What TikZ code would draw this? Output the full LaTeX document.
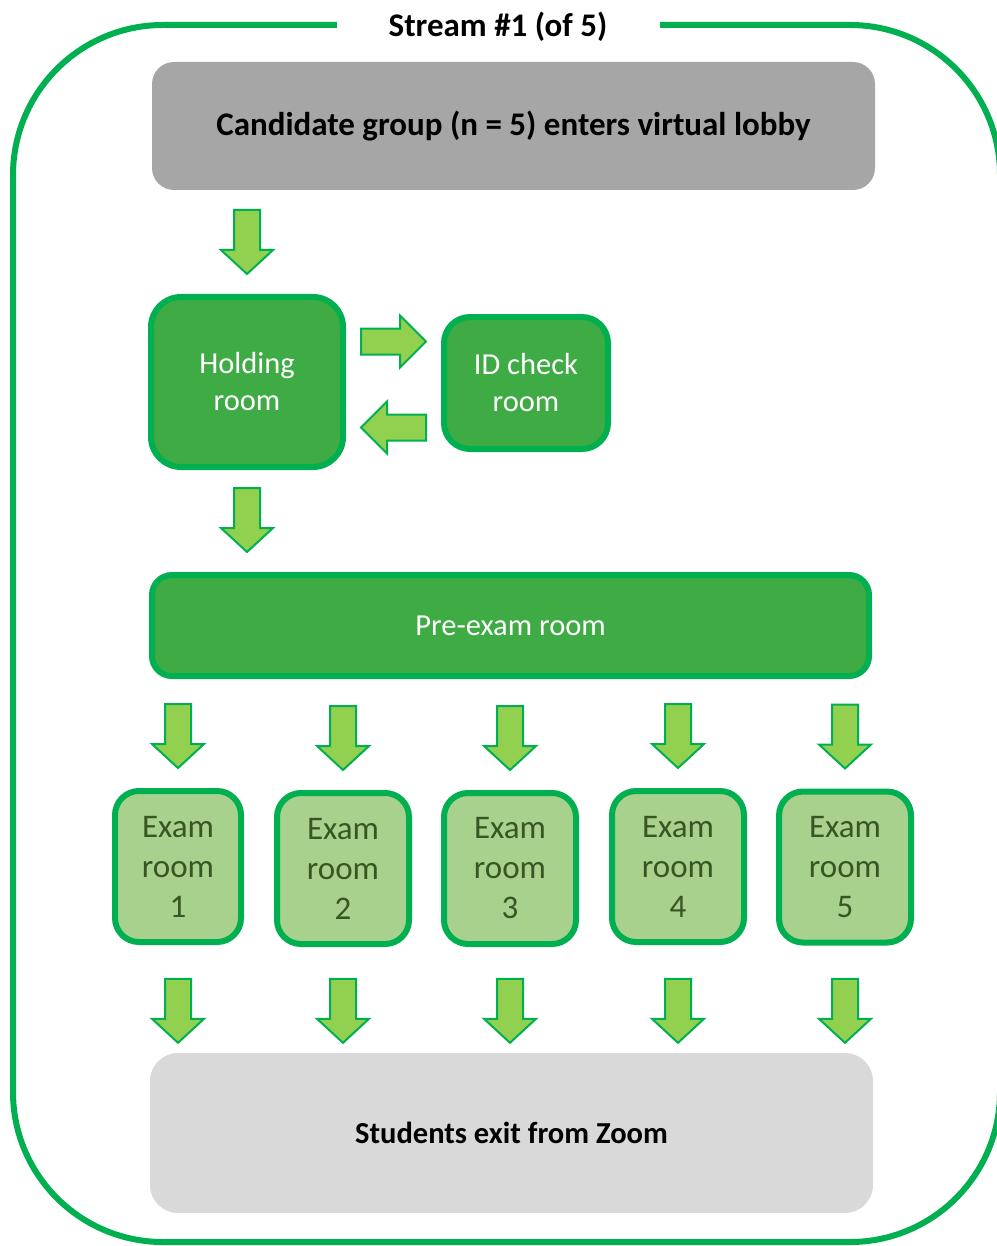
\documentclass[tikz,border=0pt]{standalone}
\usepackage{fontspec}
\setmainfont{Carlito}
\usetikzlibrary{calc}
\definecolor{frameg}{HTML}{00B050}
\definecolor{roomg}{HTML}{3FAB45}
\definecolor{examg}{HTML}{A9D18E}
\definecolor{examtxt}{HTML}{375623}
\definecolor{arrowg}{HTML}{92D050}
\definecolor{lobbyg}{HTML}{A6A6A6}
\definecolor{exitg}{HTML}{D9D9D9}
\tikzset{
  graybox/.style={draw=none, rounded corners=22pt, align=center, font=\fontsize{33}{38}\selectfont\bfseries, text=black},
  roombox/.style={draw=frameg, line width=6pt, fill=roomg, rounded corners=28pt, align=center, text=white, font=\fontsize{30.5}{37}\selectfont},
  exambox/.style={draw=frameg, line width=6pt, fill=examg, rounded corners=24pt, align=center, text=examtxt, font=\fontsize{33}{40}\selectfont, minimum width=132pt, minimum height=151pt, inner sep=0pt},
  blockarrow/.style={draw=frameg, line width=2pt, fill=arrowg, line join=miter},
  darrow/.pic={\draw[blockarrow] (0,0) -- (-26,-24) -- (-13,-24) -- (-13,-64) -- (13,-64) -- (13,-24) -- (26,-24) -- cycle;},
  rarrow/.pic={\draw[blockarrow] (0,0) -- (-26,-26) -- (-26,-13) -- (-65,-13) -- (-65,13) -- (-26,13) -- (-26,26) -- cycle;},
  larrow/.pic={\draw[blockarrow] (0,0) -- (26,-26) -- (26,-13) -- (65,-13) -- (65,13) -- (26,13) -- (26,26) -- cycle;}
}
\begin{document}
\begin{tikzpicture}[x=1pt,y=-1pt]
\useasboundingbox (0,0) rectangle (996,1246);
% outer frame
\draw[draw=frameg, line width=6pt, rounded corners=150pt] (13,25) rectangle (1000,1242);
\node[fill=white, minimum width=323pt, minimum height=20pt, inner sep=0pt, font=\fontsize{33}{38}\selectfont\bfseries] (title) at (498,27) {Stream \#1 (of 5)};
% boxes
\node[graybox, fill=lobbyg, minimum width=723pt, minimum height=128pt] (lobby) at (513.5,126) {Candidate group (n = 5) enters virtual lobby};
\node[roombox, minimum width=192pt, minimum height=170pt, rounded corners=30pt] (hold) at (247,382) {Holding\\room};
\node[roombox, minimum width=164pt, minimum height=132pt, rounded corners=26pt] (idc) at (526,383) {ID check\\room};
\node[roombox, minimum width=717pt, minimum height=101pt, rounded corners=20pt] (pre) at (510.5,625.5) {Pre-exam room};
\node[exambox, minimum width=126pt] (e1) at (178,866.5) {Exam\\room\\1};
\node[exambox] (e2) at (343,868.5) {Exam\\room\\2};
\node[exambox] (e3) at (510,868.5) {Exam\\room\\3};
\node[exambox] (e4) at (678,866.5) {Exam\\room\\4};
\node[exambox] (e5) at (845,867) {Exam\\room\\5};
\node[graybox, fill=exitg, minimum width=723pt, minimum height=160pt, rounded corners=28pt, font=\fontsize{30.5}{35}\selectfont\bfseries] (exit) at (511.5,1133) {Students exit from Zoom};
% arrows
\pic at ($(hold.north)+(0,-20)$) {darrow};
\pic at ($(hold.east)!0.5!(idc.west)+(32.5,-41)$) {rarrow};
\pic at ($(hold.east)!0.5!(idc.west)+(-32.5,45)$) {larrow};
\pic at ($(pre.north -| hold.north)+(0,-20)$) {darrow};
\foreach \e in {e1,e2,e3,e4,e5}{
  \pic at ($(\e.north)+(0,-20)$) {darrow};
  \pic at ($(\e.south |- exit.north)+(0,-10)$) {darrow};
}
\end{tikzpicture}
\end{document}
